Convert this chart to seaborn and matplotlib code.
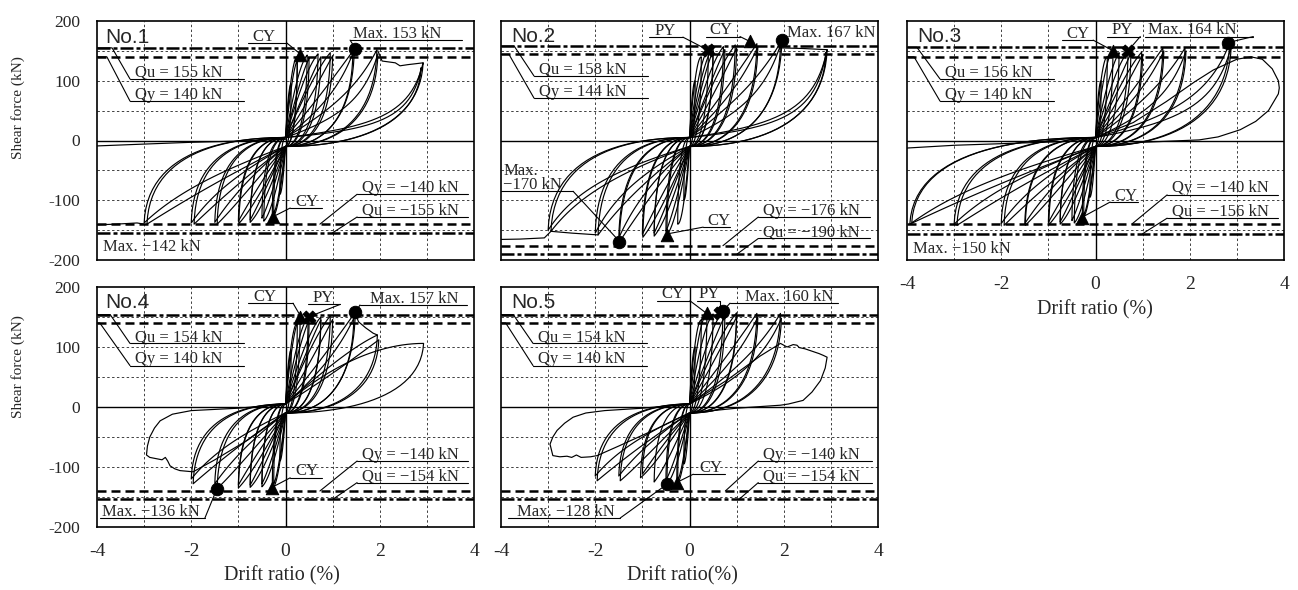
import numpy as np
import pandas as pd
import matplotlib
matplotlib.use("Agg")
import matplotlib.pyplot as plt
import seaborn as sns

# ----------------------------------------------------------------- data
XTICKS = [-4, -2, 0, 2, 4]
YTICKS = [-200, -100, 0, 100, 200]
GRID_X = [-3, -2, -1, 1, 2, 3]
GRID_Y = [-150, -100, -50, 50, 100, 150]

# reference strengths (kN): Qu, Qy, Qy(neg), Qu(neg)
P1_REF = [155, 140, -140, -155]
P2_REF = [158, 144, -176, -190]
P3_REF = [156, 140, -140, -156]
P4_REF = [154, 140, -140, -154]
P5_REF = [154, 140, -140, -154]

# ---- specimen No.1 : peaks of each half cycle (drift %, force kN, pinching)
P1_POS_DRIFT = [0.12, 0.25, 0.25, 0.46, 0.5, 0.69, 0.75, 0.95, 1.0, 1.46, 1.43, 1.94, 1.96, 2.92, 2.88]
P1_POS_FORCE = [95, 140, 134, 143, 138, 145, 140, 147, 142, 153, 146, 152, 145, 130, 122]
P1_POS_SLIP = [0, 0, 0.1, 0.1, 0.2, 0.15, 0.25, 0.2, 0.3, 0.3, 0.45, 0.45, 0.6, 0.75, 0.8]
P1_NEG_DRIFT = [-0.12, -0.28, -0.25, -0.46, -0.5, -0.75, -0.75, -0.99, -1.0, -1.45, -1.5, -1.94, -2.0, -2.94, -3.0]
P1_NEG_FORCE = [-90, -128, -122, -135, -130, -137, -133, -139, -135, -140, -137, -140, -138, -140, -138]
P1_NEG_SLIP = [0, 0, 0.1, 0.1, 0.2, 0.15, 0.25, 0.2, 0.3, 0.25, 0.35, 0.3, 0.4, 0.3, 0.4]
P1_ENV_TOP_X = [1.96, 2.05, 2.33, 2.43, 2.6, 2.71, 2.92]
P1_ENV_TOP_Y = [150, 133, 130, 125, 127, 128, 130]
P1_ENV_BOT_X = [-4.3, -3.6, -3.15, -3.0]
P1_ENV_BOT_Y = [-142, -140, -138, -140]
P1_RET_X = [-4.3, -3.0, -2.0, -1.0, 0.0]
P1_RET_Y = [-10, -6, -3, -1, 2]
P1_CY = [(0.31, 143), (-0.26, -128)]
P1_PY = []
P1_MAX = [(1.48, 153)]

# ---- specimen No.2
P2_POS_DRIFT = [0.12, 0.25, 0.4, 0.5, 0.5, 0.72, 0.75, 0.97, 1.0, 1.43, 1.45, 1.96, 1.93, 2.92, 2.9]
P2_POS_FORCE = [100, 140, 151, 155, 150, 157, 152, 160, 155, 162, 157, 168, 160, 152, 148]
P2_POS_SLIP = [0, 0, 0.05, 0.1, 0.2, 0.15, 0.25, 0.2, 0.3, 0.3, 0.4, 0.4, 0.55, 0.75, 0.8]
P2_NEG_DRIFT = [-0.12, -0.25, -0.48, -0.5, -0.75, -0.75, -0.99, -1.0, -1.49, -1.5, -1.94, -2.0, -2.94, -3.0]
P2_NEG_FORCE = [-100, -140, -158, -152, -160, -155, -162, -157, -170, -163, -158, -155, -152, -150]
P2_NEG_SLIP = [0, 0, 0.1, 0.2, 0.15, 0.25, 0.2, 0.3, 0.3, 0.4, 0.35, 0.45, 0.45, 0.5]
P2_ENV_TOP_X = [1.93, 2.4, 2.92]
P2_ENV_TOP_Y = [155, 154, 152]
P2_ENV_BOT_X = [-4.3, -3.6, -3.08, -2.94, -2.5, -1.94]
P2_ENV_BOT_Y = [-166, -165, -163, -152, -155, -158]
P2_CY = [(1.28, 166), (-0.48, -158)]
P2_PY = [(0.39, 151)]
P2_MAX = [(1.96, 168), (-1.49, -170)]

# ---- specimen No.3
P3_POS_DRIFT = [0.12, 0.25, 0.37, 0.5, 0.69, 0.75, 0.98, 1.0, 1.43, 1.45, 1.9, 1.92, 2.85, 2.88]
P3_POS_FORCE = [100, 140, 150, 147, 149, 145, 148, 144, 155, 150, 155, 150, 164, 158]
P3_POS_SLIP = [0, 0, 0.05, 0.15, 0.15, 0.25, 0.2, 0.3, 0.3, 0.4, 0.4, 0.55, 0.6, 0.7]
P3_NEG_DRIFT = [-0.12, -0.28, -0.25, -0.45, -0.5, -0.75, -0.75, -0.99, -1.0, -1.49, -1.5, -1.94, -2.0, -2.94, -3.0, -3.94, -3.9]
P3_NEG_FORCE = [-95, -130, -125, -138, -134, -140, -136, -141, -137, -142, -139, -142, -139, -142, -140, -140, -138]
P3_NEG_SLIP = [0, 0, 0.1, 0.1, 0.2, 0.15, 0.25, 0.2, 0.3, 0.25, 0.35, 0.3, 0.4, 0.3, 0.4, 0.3, 0.4]
P3_LEAF_X = [0.0, 0.8, 1.5, 2.1, 2.5, 3.0, 3.3, 3.54, 3.75, 3.88, 3.9, 3.88, 3.67, 3.4, 3.07, 2.6, 2.2, 1.0, 0.0]
P3_LEAF_Y = [5, 30, 65, 98, 118, 136, 140, 136, 120, 100, 88, 78, 50, 32, 18, 6, 1, -3, -10]
P3_RET_X = [-4.3, -3.0, -1.5, 0.0]
P3_RET_Y = [-14, -8, -4, 0]
P3_CY = [(0.37, 150), (-0.28, -130)]
P3_PY = [(0.69, 149)]
P3_MAX = [(2.82, 164)]

# ---- specimen No.4
P4_POS_DRIFT = [0.12, 0.25, 0.31, 0.48, 0.5, 0.75, 0.75, 0.95, 1.0, 1.48, 1.45, 1.95, 1.98, 2.93]
P4_POS_FORCE = [95, 140, 150, 150, 145, 150, 145, 152, 146, 158, 148, 120, 112, 106]
P4_POS_SLIP = [0, 0, 0.05, 0.1, 0.2, 0.15, 0.25, 0.2, 0.3, 0.3, 0.4, 0.2, 0.3, 0.0]
P4_NEG_DRIFT = [-0.12, -0.28, -0.25, -0.5, -0.5, -0.75, -0.75, -1.0, -1.0, -1.45, -1.5, -1.96, -2.0]
P4_NEG_FORCE = [-90, -135, -128, -133, -128, -134, -130, -135, -130, -136, -128, -128, -120]
P4_NEG_SLIP = [0, 0, 0.1, 0.1, 0.2, 0.15, 0.25, 0.2, 0.3, 0.25, 0.35, 0.3, 0.4]
P4_ENV_TOP_X = [1.48, 1.55, 1.7, 1.86, 1.95]
P4_ENV_TOP_Y = [156, 142, 132, 123, 120]
P4_LEAF_X = [0.0, -0.8, -1.5, -1.96, -2.1, -2.24, -2.35, -2.45, -2.5, -2.55, -2.62, -2.75, -2.88, -2.95,
             -2.93, -2.88, -2.78, -2.66, -2.4, -2.0, -1.0, 0.0]
P4_LEAF_Y = [-10, -55, -88, -108, -107, -106, -103, -98, -90, -84, -88, -86, -84, -80,
             -65, -50, -35, -23, -12, -6, -2, 5]
P4_CY = [(0.31, 150), (-0.28, -135)]
P4_PY = [(0.5, 150)]
P4_MAX = [(1.48, 158), (-1.45, -136)]

# ---- specimen No.5
P5_POS_DRIFT = [0.12, 0.25, 0.37, 0.5, 0.71, 0.75, 1.0, 1.0, 1.43, 1.45, 1.93, 1.95]
P5_POS_FORCE = [100, 145, 157, 155, 160, 152, 157, 150, 156, 150, 156, 148]
P5_POS_SLIP = [0, 0, 0.05, 0.1, 0.15, 0.25, 0.2, 0.3, 0.3, 0.4, 0.4, 0.5]
P5_NEG_DRIFT = [-0.12, -0.27, -0.25, -0.48, -0.5, -0.75, -1.04, -1.0, -1.47, -1.5, -1.96, -2.0]
P5_NEG_FORCE = [-95, -127, -122, -128, -122, -125, -118, -112, -123, -115, -123, -115]
P5_NEG_SLIP = [0, 0, 0.1, 0.1, 0.2, 0.2, 0.2, 0.3, 0.25, 0.35, 0.3, 0.4]
P5_LEAF_R_X = [0.0, 0.8, 1.5, 1.93, 2.07, 2.2, 2.28, 2.33, 2.45, 2.6, 2.75, 2.84, 2.92,
               2.88, 2.78, 2.6, 2.41, 2.1, 1.93, 1.0, 0.0]
P5_LEAF_R_Y = [5, 45, 85, 106, 100, 104, 103, 99, 97, 93, 89, 86, 83, 65, 44, 25, 11, 5, 3, -2, -10]
P5_LEAF_L_X = [0.0, -0.8, -1.5, -1.96, -2.1, -2.3, -2.4, -2.5, -2.6, -2.75, -2.9, -2.96,
               -2.9, -2.81, -2.65, -2.47, -2.2, -1.8, -1.0, 0.0]
P5_LEAF_L_Y = [-10, -40, -65, -81, -83, -84, -80, -84, -82, -83, -81, -62,
               -50, -39, -27, -17, -10, -6, -2, 5]
P5_CY = [(0.37, 157), (-0.27, -127)]
P5_PY = [(0.65, 157)]
P5_MAX = [(0.71, 160), (-0.48, -128)]

PINCH_UP, PINCH_DOWN = 5, -10   # force where the pinched branches cross zero drift

# ----------------------------------------------------------------- style
sns.set_style("white")
plt.rcParams['font.family'] = ['Liberation Serif', 'DejaVu Serif']
plt.rcParams['axes.unicode_minus'] = False
plt.rcParams['mathtext.default'] = 'regular'

W, H = 1298, 590
fig = plt.figure(figsize=(W / 100, H / 100), dpi=100)
fig.patch.set_facecolor('white')

BOXES = {1: (97, 21, 474, 260), 2: (501, 21, 878, 260), 3: (907, 21, 1284, 260),
         4: (97, 287, 474, 527), 5: (501, 287, 878, 527)}


def make_ax(box):
    l, t, r, b = box
    return fig.add_axes([l / W, 1 - b / H, (r - l) / W, (b - t) / H])


def bez(p0, p1, p2, p3, n=28):
    t = np.linspace(0, 1, n)[:, None]
    p0, p1, p2, p3 = map(np.array, (p0, p1, p2, p3))
    pts = (1 - t) ** 3 * p0 + 3 * (1 - t) ** 2 * t * p1 + 3 * (1 - t) * t ** 2 * p2 + t ** 3 * p3
    return pts[:, 0], pts[:, 1]


def half_cycle(A, F, s, y_start, y_end):
    lx, ly = bez((0, y_start), (A * (0.3 + 0.5 * s), F * 0.6 * (1 - s) + y_start * s),
                 (A * (0.65 + 0.35 * s), F * (1 - 0.85 * s)), (A, F))
    ux, uy = bez((A, F), (A * 0.98, F * 0.15), (A * 0.45, y_end), (0, y_end))
    return np.concatenate([lx, ux]), np.concatenate([ly, uy])


def loops_frame(pos, neg, extras):
    rows = []
    seg = 0
    for A, F, s in zip(*pos):
        x, y = half_cycle(A, F, s, PINCH_UP, PINCH_DOWN)
        rows.append(pd.DataFrame({'x': x, 'y': y, 'seg': seg}))
        seg += 1
    for A, F, s in zip(*neg):
        x, y = half_cycle(A, F, s, PINCH_DOWN, PINCH_UP)
        rows.append(pd.DataFrame({'x': x, 'y': y, 'seg': seg}))
        seg += 1
    for ex, ey in extras:
        rows.append(pd.DataFrame({'x': ex, 'y': ey, 'seg': seg}))
        seg += 1
    return pd.concat(rows, ignore_index=True)


def base_axis(ax, ref, xlab, ylab):
    ax.set_xlim(-4, 4)
    ax.set_ylim(-200, 200)
    for g in GRID_X:
        ax.axvline(g, color='0.25', lw=0.7, ls=(0, (2.5, 2.5)), zorder=1)
    for g in GRID_Y:
        ax.axhline(g, color='0.25', lw=0.7, ls=(0, (2.5, 2.5)), zorder=1)
    ax.axvline(0, color='k', lw=1.0, zorder=1)
    ax.axhline(0, color='k', lw=1.0, zorder=1)
    qu, qy, qyn, qun = ref
    dashdot = (0, (5.2, 1.2, 1.6, 1.2))
    dashed = (0, (3.6, 2.0))
    ax.axhline(qu, color='k', lw=1.8, ls=dashdot, zorder=3)
    ax.axhline(qun, color='k', lw=1.8, ls=dashdot, zorder=3)
    ax.axhline(qy, color='k', lw=1.8, ls=dashed, zorder=3)
    ax.axhline(qyn, color='k', lw=1.8, ls=dashed, zorder=3)
    ax.set_xticks(XTICKS)
    ax.set_yticks(YTICKS)
    ax.tick_params(axis='x', length=0, labelsize=14, pad=11.5, labelbottom=xlab)
    ax.tick_params(axis='y', length=0, labelsize=12.5, pad=12, labelleft=ylab)
    ax.set_xlabel('')
    ax.set_ylabel('')
    for sp in ax.spines.values():
        sp.set_color('k')
        sp.set_linewidth(1.2)
        sp.set_zorder(6)


def draw_loops(ax, df):
    sns.lineplot(data=df, x='x', y='y', units='seg', estimator=None, sort=False,
                 color='k', lw=0.85, legend=False, ax=ax, zorder=4)
    ax.set_xlabel('')
    ax.set_ylabel('')


def draw_points(ax, cy, py, mx):
    if cy:
        sns.scatterplot(x=[p[0] for p in cy], y=[p[1] for p in cy], marker='^', s=80,
                        color='k', edgecolor='k', ax=ax, zorder=7, legend=False)
    if py:
        sns.scatterplot(x=[p[0] for p in py], y=[p[1] for p in py], marker='X', s=85,
                        color='k', edgecolor='k', ax=ax, zorder=7, legend=False)
    if mx:
        sns.scatterplot(x=[p[0] for p in mx], y=[p[1] for p in mx], marker='o', s=80,
                        color='k', edgecolor='k', ax=ax, zorder=7, legend=False)
    ax.set_xlabel('')
    ax.set_ylabel('')


def note(ax, text, tx, y, x0, x1, path=None, side='left'):
    ax.text(tx, y + 4, text, fontsize=12, ha='left', va='baseline', zorder=8)
    ax.plot([x0, x1], [y, y], color='k', lw=0.8, zorder=8)
    if path:
        sx = x0 if side == 'left' else x1
        px = [sx] + [p[0] for p in path]
        py = [y] + [p[1] for p in path]
        ax.plot(px, py, color='k', lw=0.8, zorder=8)


def plain(ax, text, x, y):
    ax.text(x, y, text, fontsize=12, ha='left', va='baseline', zorder=8)


def title(ax, text, x, y):
    ax.text(x, y, text, fontsize=15, family=['Liberation Sans', 'DejaVu Sans'],
            ha='left', va='baseline', zorder=8)


def ref_notes(ax, ref, ypos, yneg, tip_pos, tip_neg, xl=(-3.30, -0.88), xr=(1.52, 3.88)):
    qu, qy, qyn, qun = ref
    note(ax, f'Qu = {qu} kN', xl[0] + 0.1, ypos[0], xl[0], xl[1],
         path=[(tip_pos[0], qu), (-4, qu)])
    note(ax, f'Qy = {qy} kN', xl[0] + 0.1, ypos[1], xl[0], xl[1],
         path=[(tip_pos[1], qy), (-4, qy)])
    note(ax, f'Qy = \u2212{abs(qyn)} kN', xr[0] + 0.1, yneg[0], xr[0], xr[1],
         path=[(tip_neg[0], qyn)])
    note(ax, f'Qu = \u2212{abs(qun)} kN', xr[0] + 0.1, yneg[1], xr[0], xr[1],
         path=[(tip_neg[1], qun)])


# ----------------------------------------------------------------- panel 1
ax = make_ax(BOXES[1])
base_axis(ax, P1_REF, xlab=False, ylab=True)
draw_loops(ax, loops_frame((P1_POS_DRIFT, P1_POS_FORCE, P1_POS_SLIP),
                           (P1_NEG_DRIFT, P1_NEG_FORCE, P1_NEG_SLIP),
                           [(P1_ENV_TOP_X, P1_ENV_TOP_Y), (P1_ENV_BOT_X, P1_ENV_BOT_Y),
                            (P1_RET_X, P1_RET_Y)]))
draw_points(ax, P1_CY, P1_PY, P1_MAX)
title(ax, 'No.1', -3.83, 163)
ref_notes(ax, P1_REF, (103, 66), (-90, -128), (-3.68, -3.79), (0.73, 0.99))
note(ax, 'CY', -0.70, 163, -0.79, 0.03, path=[(0.28, 147)], side='right')
note(ax, 'Max. 153 kN', 1.44, 168, 1.37, 3.75, path=[(1.46, 157)])
note(ax, 'CY', 0.2, -113, 0.1, 0.78, path=[(-0.2, -125)])
plain(ax, 'Max. \u2212142 kN', -3.87, -185)

# ----------------------------------------------------------------- panel 2
ax = make_ax(BOXES[2])
base_axis(ax, P2_REF, xlab=False, ylab=False)
draw_loops(ax, loops_frame((P2_POS_DRIFT, P2_POS_FORCE, P2_POS_SLIP),
                           (P2_NEG_DRIFT, P2_NEG_FORCE, P2_NEG_SLIP),
                           [(P2_ENV_TOP_X, P2_ENV_TOP_Y), (P2_ENV_BOT_X, P2_ENV_BOT_Y)]))
draw_points(ax, P2_CY, P2_PY, P2_MAX)
title(ax, 'No.2', -3.79, 165)
ref_notes(ax, P2_REF, (108, 71), (-128, -164), (-3.72, -3.83), (0.71, 1.01), xr=(1.46, 3.84))
note(ax, 'PY', -0.75, 173, -0.86, -0.14, path=[(0.35, 153)], side='right')
note(ax, 'CY', 0.42, 174, 0.35, 1.07, path=[(1.25, 167)], side='right')
plain(ax, 'Max. 167 kN', 2.07, 173)
plain(ax, 'Max.', -3.95, -58)
note(ax, '\u2212170 kN', -3.95, -85, -4.0, -2.47, path=[(-1.52, -166)], side='right')
note(ax, 'CY', 0.38, -145, 0.29, 0.86, path=[(-0.45, -156)])

# ----------------------------------------------------------------- panel 3
ax = make_ax(BOXES[3])
base_axis(ax, P3_REF, xlab=True, ylab=False)
draw_loops(ax, loops_frame((P3_POS_DRIFT, P3_POS_FORCE, P3_POS_SLIP),
                           (P3_NEG_DRIFT, P3_NEG_FORCE, P3_NEG_SLIP),
                           [(P3_LEAF_X, P3_LEAF_Y), (P3_RET_X, P3_RET_Y)]))
draw_points(ax, P3_CY, P3_PY, P3_MAX)
title(ax, 'No.3', -3.79, 165)
ref_notes(ax, P3_REF, (103, 66), (-91, -130), (-3.79, -3.85), (0.77, 1.0))
note(ax, 'CY', -0.62, 168, -0.71, -0.05, path=[(0.33, 152)], side='right')
note(ax, 'PY', 0.33, 174, 0.25, 0.95, path=[(0.7, 151)], side='right')
note(ax, 'Max. 164 kN', 1.12, 174, 1.05, 3.35, path=[(2.87, 165)], side='right')
note(ax, 'CY', 0.4, -103, 0.31, 0.91, path=[(-0.25, -127)])
plain(ax, 'Max. \u2212150 kN', -3.87, -188)

# ----------------------------------------------------------------- panel 4
ax = make_ax(BOXES[4])
base_axis(ax, P4_REF, xlab=True, ylab=True)
draw_loops(ax, loops_frame((P4_POS_DRIFT, P4_POS_FORCE, P4_POS_SLIP),
                           (P4_NEG_DRIFT, P4_NEG_FORCE, P4_NEG_SLIP),
                           [(P4_ENV_TOP_X, P4_ENV_TOP_Y), (P4_LEAF_X, P4_LEAF_Y)]))
draw_points(ax, P4_CY, P4_PY, P4_MAX)
title(ax, 'No.4', -3.83, 165)
ref_notes(ax, P4_REF, (106, 69), (-90, -126), (-3.72, -3.94), (0.73, 1.0))
note(ax, 'CY', -0.68, 173, -0.79, 0.16, path=[(0.3, 154)], side='right')
note(ax, 'PY', 0.57, 171, 0.48, 1.16, path=[(0.55, 152)], side='right')
note(ax, 'Max. 157 kN', 1.8, 170, 1.58, 3.86, path=[(1.5, 160)])
note(ax, 'Max. \u2212136 kN', -3.9, -185, -3.94, -1.71, path=[(-1.47, -139)], side='right')
note(ax, 'CY', 0.2, -118, 0.1, 0.78, path=[(-0.24, -132)])

# ----------------------------------------------------------------- panel 5
ax = make_ax(BOXES[5])
base_axis(ax, P5_REF, xlab=True, ylab=False)
draw_loops(ax, loops_frame((P5_POS_DRIFT, P5_POS_FORCE, P5_POS_SLIP),
                           (P5_NEG_DRIFT, P5_NEG_FORCE, P5_NEG_SLIP),
                           [(P5_LEAF_R_X, P5_LEAF_R_Y), (P5_LEAF_L_X, P5_LEAF_L_Y)]))
draw_points(ax, P5_CY, P5_PY, P5_MAX)
title(ax, 'No.5', -3.79, 165)
ref_notes(ax, P5_REF, (106, 69), (-90, -126), (-3.74, -3.9), (0.76, 1.05), xl=(-3.32, -0.9), xr=(1.46, 3.88))
note(ax, 'CY', -0.6, 177, -0.69, 0.01, path=[(0.33, 158)], side='right')
note(ax, 'PY', 0.2, 177, 0.16, 0.65, path=[(0.65, 160)], side='right')
note(ax, 'Max. 160 kN', 1.18, 173, 0.86, 3.16, path=[(0.73, 162)])
note(ax, 'Max. \u2212128 kN', -3.66, -185, -3.85, -1.47, path=[(-0.5, -130)], side='right')
note(ax, 'CY', 0.2, -112, 0.08, 0.76, path=[(-0.25, -125)])

# ----------------------------------------------------------------- axis titles
fig.text(18 / W, 1 - 108 / H, 'Shear force (kN)', rotation=90, ha='center', va='center', fontsize=11)
fig.text(18 / W, 1 - 367 / H, 'Shear force (kN)', rotation=90, ha='center', va='center', fontsize=11)
fig.text(1095 / W, 1 - 310 / H, 'Drift ratio (%)', ha='center', va='center', fontsize=14.5)
fig.text(282 / W, 1 - 576 / H, 'Drift ratio (%)', ha='center', va='center', fontsize=14.5)
fig.text(682 / W, 1 - 576 / H, 'Drift ratio(%)', ha='center', va='center', fontsize=14.5)

fig.savefig('out.png', dpi=100, facecolor='white')
